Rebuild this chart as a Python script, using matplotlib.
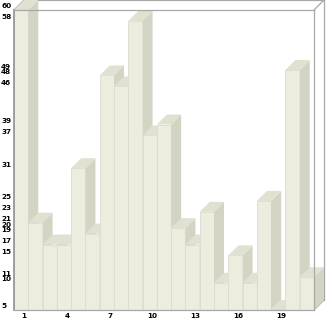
import matplotlib
matplotlib.use("Agg")
import matplotlib.pyplot as plt
import matplotlib.transforms as mtransforms
from matplotlib.patches import Polygon

# bar values (axis starts at 5)
positions = list(range(1, 22))
values = [60, 21, 17, 17, 31, 19, 48, 46, 58, 37, 39, 20, 17, 23, 10, 15, 10, 25, 5, 49, 11]
x_ticks = [1, 4, 7, 10, 13, 16, 19]
y_ticks = sorted(set(values))

y_min, y_max = 5, 60
W, H = 326, 321
left_px, right_px, top_px, bottom_px = 14, 314, 10, 310
depth_px = 10

front = "#ecedde"
side = "#d3d4c3"
top = "#e0e1d1"
line = "#a8a8a8"

fig = plt.figure(figsize=(W / 100, H / 100), dpi=100)
ax = fig.add_axes([left_px / W, (H - bottom_px) / H,
                   (right_px - left_px) / W, (bottom_px - top_px) / H])
ax.set_xlim(0.5, 21.5)
ax.set_ylim(y_min, y_max)

# depth offset in data units
dx = depth_px / ((right_px - left_px) / 21)
dy = depth_px / ((bottom_px - top_px) / (y_max - y_min))

# back box lines
x0, x1 = 0.5, 21.5
box = [
    ([x0 + dx, x1 + dx], [y_max + dy, y_max + dy]),
    ([x0, x0 + dx], [y_max, y_max + dy]),
    ([x1, x1 + dx], [y_max, y_max + dy]),
    ([x1 + dx, x1 + dx], [y_min + dy, y_max + dy]),
    ([x1, x1 + dx], [y_min, y_min + dy]),
]
for bx, by in box:
    ax.plot(bx, by, color=line, lw=0.9, clip_on=False, zorder=0)

for i, (x, v) in enumerate(zip(positions, values)):
    z = 2 + i
    ax.bar(x, v - y_min, bottom=y_min, width=1, color=front,
           edgecolor="#dcddcd", linewidth=0.6, zorder=z)
    sd = Polygon([(x + 0.5, y_min), (x + 0.5 + dx, y_min + dy),
                  (x + 0.5 + dx, v + dy), (x + 0.5, v)],
                 closed=True, facecolor=side, edgecolor="none", clip_on=False, zorder=z)
    tp = Polygon([(x - 0.5, v), (x - 0.5 + dx, v + dy),
                  (x + 0.5 + dx, v + dy), (x + 0.5, v)],
                 closed=True, facecolor=top, edgecolor="none", clip_on=False, zorder=z)
    ax.add_patch(sd)
    ax.add_patch(tp)

for s in ["top", "right", "bottom"]:
    ax.spines[s].set_color(line)
    ax.spines[s].set_linewidth(0.9)
    ax.spines[s].set_zorder(30)
ax.spines["left"].set_color("#909090")
ax.spines["left"].set_linewidth(1.2)
ax.spines["left"].set_zorder(30)

ax.set_xticks(x_ticks)
ax.set_xticklabels([str(t) for t in x_ticks])
ax.set_yticks(y_ticks)
ax.set_yticklabels([str(t) for t in y_ticks])
ax.tick_params(axis="x", length=0, labelsize=5.2, colors="black", pad=2)
ax.tick_params(axis="y", length=0, labelsize=5.2, colors="black", pad=13 * 72 / 100)

y_shift = mtransforms.ScaledTranslation(0, 4 / 100, fig.dpi_scale_trans)
x_shift = mtransforms.ScaledTranslation(3 / 100, 0, fig.dpi_scale_trans)
for lbl in ax.get_yticklabels():
    lbl.set_fontweight("bold")
    lbl.set_horizontalalignment("left")
    lbl.set_transform(lbl.get_transform() + y_shift)
for lbl in ax.get_xticklabels():
    lbl.set_fontweight("bold")
    lbl.set_transform(lbl.get_transform() + x_shift)

fig.savefig("out.png", dpi=100)
